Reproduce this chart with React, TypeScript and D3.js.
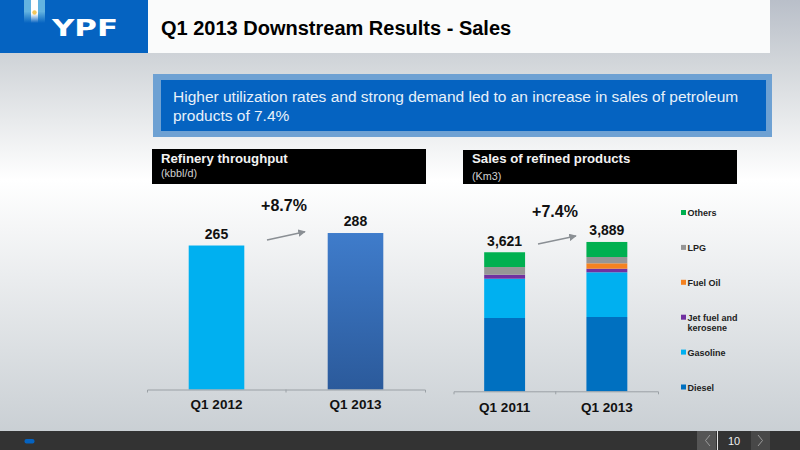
import React, { useEffect, useRef } from 'react';
import * as d3 from 'd3';

const throughputPeriods = ['Q1 2012', 'Q1 2013'];
const throughputValues = [265, 288];

const salesPeriods = ['Q1 2011', 'Q1 2013'];
const salesTotals = ['3,621', '3,889'];
const products = ['Diesel', 'Gasoline', 'Jet fuel and kerosene', 'Fuel Oil', 'LPG', 'Others'];
const sales2011 = [1909, 1023, 104, 0, 200, 385];
const sales2013 = [1935, 1164, 94, 140, 164, 392];
const productColors = ['#0070c0', '#00b0f0', '#7030a0', '#f58220', '#969696', '#00b050'];

const FONT = '"Liberation Sans", Arial, sans-serif';

const App: React.FC = () => {
  const svgRef = useRef<SVGSVGElement>(null);

  useEffect(() => {
    if (!svgRef.current) return;

    const svg = d3.select(svgRef.current);
    svg.selectAll('*').remove();

    const defs = svg.append('defs');

    const bgGrad = defs.append('linearGradient').attr('id', 'bg').attr('x1', 0).attr('x2', 0).attr('y1', 0).attr('y2', 1);
    bgGrad.append('stop').attr('offset', '0').attr('stop-color', '#b9bfc9');
    bgGrad.append('stop').attr('offset', '0.14').attr('stop-color', '#d2d6da');
    bgGrad.append('stop').attr('offset', '0.4').attr('stop-color', '#ffffff');
    bgGrad.append('stop').attr('offset', '1').attr('stop-color', '#c6ccd1');

    const barGrad = defs.append('linearGradient').attr('id', 'darkBar').attr('x1', 0).attr('x2', 0).attr('y1', 0).attr('y2', 1);
    barGrad.append('stop').attr('offset', '0').attr('stop-color', '#3f7ccb');
    barGrad.append('stop').attr('offset', '1').attr('stop-color', '#2b5a9b');

    const flagGrad = defs.append('linearGradient').attr('id', 'flag').attr('x1', 0).attr('x2', 0).attr('y1', 0).attr('y2', 1);
    flagGrad.append('stop').attr('offset', '0.6').attr('stop-color', '#ffffff');
    flagGrad.append('stop').attr('offset', '1').attr('stop-color', '#0563c1');

    const flagSide = defs.append('linearGradient').attr('id', 'flagSide').attr('x1', 0).attr('x2', 0).attr('y1', 0).attr('y2', 1);
    flagSide.append('stop').attr('offset', '0.5').attr('stop-color', '#63b3e0');
    flagSide.append('stop').attr('offset', '1').attr('stop-color', '#0563c1');

    const arrow = defs.append('marker').attr('id', 'arrow').attr('viewBox', '0 0 10 10')
      .attr('refX', 9).attr('refY', 5).attr('markerWidth', 5).attr('markerHeight', 5).attr('orient', 'auto');
    arrow.append('path').attr('d', 'M0,0L10,5L0,10Z').attr('fill', '#8a8f94');

    const text = (x: number, y: number, str: string, size: number, weight: string, fill: string, anchor = 'start') =>
      svg.append('text').attr('x', x).attr('y', y).attr('font-family', FONT).attr('font-size', size)
        .attr('font-weight', weight).attr('fill', fill).attr('text-anchor', anchor).text(str);

    // Background and header
    svg.append('rect').attr('width', 800).attr('height', 450).attr('fill', 'url(#bg)');
    svg.append('rect').attr('x', 148).attr('width', 622).attr('height', 53).attr('fill', '#fafbfb');
    svg.append('rect').attr('width', 148).attr('height', 53).attr('fill', '#0563c1');

    // Logo
    svg.append('rect').attr('x', 24).attr('width', 21).attr('height', 23).attr('fill', 'url(#flagSide)');
    svg.append('rect').attr('x', 31).attr('width', 7).attr('height', 23).attr('fill', 'url(#flag)');
    svg.append('circle').attr('cx', 34.5).attr('cy', 12.5).attr('r', 2.2).attr('fill', '#f2c75c');
    svg.append('text').attr('x', 52).attr('y', 36).attr('font-family', '"DejaVu Sans", sans-serif')
      .attr('font-size', 23.5).attr('font-weight', 'bold').attr('fill', '#ffffff')
      .attr('textLength', 66).attr('lengthAdjust', 'spacingAndGlyphs').text('YPF');

    text(161, 35, 'Q1 2013 Downstream Results - Sales', 20, 'bold', '#000000');

    // Callout
    svg.append('rect').attr('x', 153).attr('y', 74).attr('width', 619).attr('height', 63).attr('fill', '#6ea1d3');
    svg.append('rect').attr('x', 161).attr('y', 80).attr('width', 605).attr('height', 51).attr('fill', '#0563c1');
    text(173, 102, 'Higher utilization rates and strong demand led to an increase in sales of petroleum', 15.5, 'normal', '#e8f1fa');
    text(173, 121, 'products of 7.4%', 15.5, 'normal', '#e8f1fa');

    // Section title boxes
    svg.append('rect').attr('x', 152).attr('y', 149).attr('width', 274).attr('height', 35).attr('fill', '#000000');
    svg.append('rect').attr('x', 463).attr('y', 150).attr('width', 274).attr('height', 34).attr('fill', '#000000');
    text(161, 163, 'Refinery throughput', 13.2, 'bold', '#f2f2f2');
    text(161, 177, '(kbbl/d)', 10.8, 'normal', '#d0d0d0');
    text(472, 163, 'Sales of refined products', 13.2, 'bold', '#f2f2f2');
    text(472, 180, '(Km3)', 10.8, 'normal', '#d0d0d0');

    const styleAxis = (g: d3.Selection<SVGGElement, unknown, null, undefined>, size: number) => {
      g.selectAll('path').attr('stroke', '#9aa0a5').attr('fill', 'none');
      g.selectAll('text').attr('font-family', FONT).attr('font-size', size).attr('font-weight', 'bold').attr('fill', '#111111');
    };

    // Refinery throughput
    const xLeft = d3.scaleBand<string>().domain(throughputPeriods).range([147, 425]).paddingInner(0.6).paddingOuter(0.3);
    const yLeft = d3.scaleLinear().domain([0, 300]).range([389.5, 226.5]);

    svg.selectAll('.throughput')
      .data(throughputValues)
      .enter().append('rect')
      .attr('class', 'throughput')
      .attr('x', (_, i) => xLeft(throughputPeriods[i])!)
      .attr('y', d => yLeft(d))
      .attr('width', xLeft.bandwidth())
      .attr('height', d => yLeft(0) - yLeft(d))
      .attr('fill', (_, i) => (i === 0 ? '#00b0f0' : 'url(#darkBar)'));

    svg.selectAll('.throughput-label')
      .data(throughputValues)
      .enter().append('text')
      .attr('class', 'throughput-label')
      .attr('x', (_, i) => xLeft(throughputPeriods[i])! + xLeft.bandwidth() / 2)
      .attr('y', d => yLeft(d) - 7)
      .attr('text-anchor', 'middle')
      .attr('font-family', FONT).attr('font-size', 14).attr('font-weight', 'bold').attr('fill', '#111111')
      .text(d => d);

    const leftAxis = svg.append('g').attr('transform', `translate(0,${yLeft(0)})`)
      .call(d3.axisBottom(xLeft).tickSize(0).tickSizeOuter(3).tickPadding(10));
    styleAxis(leftAxis, 13.5);
    svg.append('line').attr('x1', 147 + xLeft.step()).attr('x2', 147 + xLeft.step())
      .attr('y1', yLeft(0)).attr('y2', yLeft(0) + 3).attr('stroke', '#9aa0a5');

    // Sales of refined products
    const xRight = d3.scaleBand<string>().domain(salesPeriods).range([453.5, 658]).paddingInner(0.6).paddingOuter(0.3);
    const yRight = d3.scaleLinear().domain([0, 4000]).range([391.3, 237.7]);

    const rows = [sales2011, sales2013].map((values, i) => {
      const row: Record<string, number | string> = { period: salesPeriods[i] };
      products.forEach((p, j) => { row[p] = values[j]; });
      return row;
    });
    const stacked = d3.stack<Record<string, number | string>>().keys(products)(rows);

    svg.selectAll('.layer')
      .data(stacked)
      .enter().append('g')
      .attr('class', 'layer')
      .attr('fill', (_, i) => productColors[i])
      .selectAll('rect')
      .data(d => d)
      .enter().append('rect')
      .attr('x', d => xRight(d.data.period as string)!)
      .attr('y', d => yRight(d[1]))
      .attr('width', xRight.bandwidth())
      .attr('height', d => yRight(d[0]) - yRight(d[1]));

    salesTotals.forEach((label, i) => {
      const top = d3.sum(i === 0 ? sales2011 : sales2013);
      text(xRight(salesPeriods[i])! + xRight.bandwidth() / 2, yRight(top) - 6.5, label, 14, 'bold', '#111111', 'middle');
    });

    const rightAxis = svg.append('g').attr('transform', `translate(0,${yRight(0)})`)
      .call(d3.axisBottom(xRight).tickSize(0).tickSizeOuter(3).tickPadding(11));
    styleAxis(rightAxis, 13.5);
    svg.append('line').attr('x1', 453.5 + xRight.step()).attr('x2', 453.5 + xRight.step())
      .attr('y1', yRight(0)).attr('y2', yRight(0) + 3).attr('stroke', '#9aa0a5');

    // Legend
    const legendY = d3.scalePoint<string>().domain([...products].reverse()).range([212.5, 387]);
    products.forEach((p, i) => {
      const y = legendY(p)!;
      svg.append('rect').attr('x', 681).attr('y', y - 2.5).attr('width', 5).attr('height', 5).attr('fill', productColors[i]);
      const words = p === 'Jet fuel and kerosene' ? ['Jet fuel and', 'kerosene'] : [p];
      words.forEach((w, k) => text(687.5, y + 3.5 + k * 10.5, w, 9, 'bold', '#222222'));
    });

    // Change annotations
    text(284, 211, '+8.7%', 16, 'bold', '#111111', 'middle');
    text(555, 217, '+7.4%', 16, 'bold', '#111111', 'middle');
    svg.append('line').attr('x1', 267).attr('y1', 240).attr('x2', 305).attr('y2', 231.7)
      .attr('stroke', '#8a8f94').attr('stroke-width', 1.5).attr('marker-end', 'url(#arrow)');
    svg.append('line').attr('x1', 538).attr('y1', 244).attr('x2', 576).attr('y2', 236)
      .attr('stroke', '#8a8f94').attr('stroke-width', 1.5).attr('marker-end', 'url(#arrow)');

    // Footer
    svg.append('rect').attr('y', 431).attr('width', 800).attr('height', 19).attr('fill', '#333333');
    svg.append('rect').attr('x', 24.5).attr('y', 439).attr('width', 10).attr('height', 4.5).attr('rx', 2).attr('fill', '#0563c1');
    svg.append('rect').attr('x', 697).attr('y', 431).attr('width', 19).attr('height', 19).attr('fill', '#555555');
    svg.append('rect').attr('x', 717).attr('y', 431).attr('width', 1).attr('height', 19).attr('fill', '#e6e6e6');
    svg.append('rect').attr('x', 751).attr('y', 431).attr('width', 19).attr('height', 19).attr('fill', '#484848');
    svg.append('path').attr('d', 'M710,435L705.5,440.5L710,446').attr('fill', 'none').attr('stroke', '#9a9a9a');
    svg.append('path').attr('d', 'M758,435L762.5,440.5L758,446').attr('fill', 'none').attr('stroke', '#9a9a9a');
    text(734, 445, '10', 11, 'normal', '#f0f0f0', 'middle');
  }, []);

  return (
    <svg
      ref={svgRef}
      width="800"
      height="450"
      style={{ position: 'absolute', left: 0, top: 0, display: 'block' }}
    />
  );
};

export default App;
